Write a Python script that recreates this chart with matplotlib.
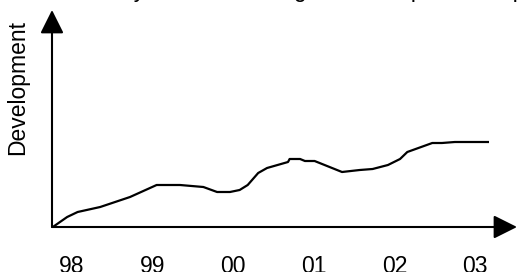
import matplotlib
matplotlib.use("Agg")
import matplotlib.pyplot as plt

plt.rcParams['font.family'] = ['Liberation Sans', 'DejaVu Sans']

# ---- data ----
years = [1997.78, 1997.94, 1998.07, 1998.35, 1998.72, 1999.05, 1999.34, 1999.63,
         1999.80, 1999.96, 2000.08, 2000.18, 2000.31, 2000.42, 2000.68, 2000.70,
         2000.83, 2000.89, 2001.01, 2001.35, 2001.57, 2001.73, 2001.92, 2002.07,
         2002.16, 2002.47, 2002.59, 2002.75, 2003.16]
development = [1, 10, 15, 20, 30, 42, 42, 40, 35, 35, 37, 42, 54, 59, 65, 68,
               68, 66, 66, 55, 57, 58, 62, 68, 75, 84, 84, 85, 85]
tick_years = [1998, 1999, 2000, 2001, 2002, 2003]
tick_labels = ['98', '99', '00', '01', '02', '03']
y_label = 'Development'
title_text = 'Analysis, Market, Organisation, partnership'

W, H = 517, 272
FS = 16.5
fig = plt.figure(figsize=(W / 100, H / 100), dpi=100)
ax = fig.add_axes([52 / W, 45 / H, 465 / W, 217 / H])

ax.plot(years, development, color='black', lw=1.6, solid_joinstyle='round', clip_on=False)

ax.set_xlim(1997.752, 2003.521)
ax.set_ylim(0, 217)

for s in ax.spines.values():
    s.set_visible(False)
ax.set_yticks([])
ax.set_xticks(tick_years)
ax.set_xticklabels(tick_labels, fontsize=FS)
ax.tick_params(axis='x', length=0, pad=20.5)

# axis arrows
arrow_kw = dict(arrowstyle='-|>,head_length=1.0,head_width=0.5', color='black',
                lw=1.5, shrinkA=0, shrinkB=0, mutation_scale=14.4)
ax.annotate('', xy=(1.0, 0.0), xytext=(0.0, 0.0), xycoords='axes fraction',
            textcoords='axes fraction', arrowprops=arrow_kw, annotation_clip=False)
ax.annotate('', xy=(0.0, 1.0), xytext=(0.0, 0.0), xycoords='axes fraction',
            textcoords='axes fraction', arrowprops=arrow_kw, annotation_clip=False)

ax.text(-0.0731, 0.645, y_label, transform=ax.transAxes, rotation=90,
        ha='center', va='center', fontsize=FS)

# title clipped at the top edge (only descenders show)
fig.text(88 / W, 1 + 3 / H, title_text, ha='left', va='baseline', fontsize=FS)

fig.savefig('out.png', dpi=100)
